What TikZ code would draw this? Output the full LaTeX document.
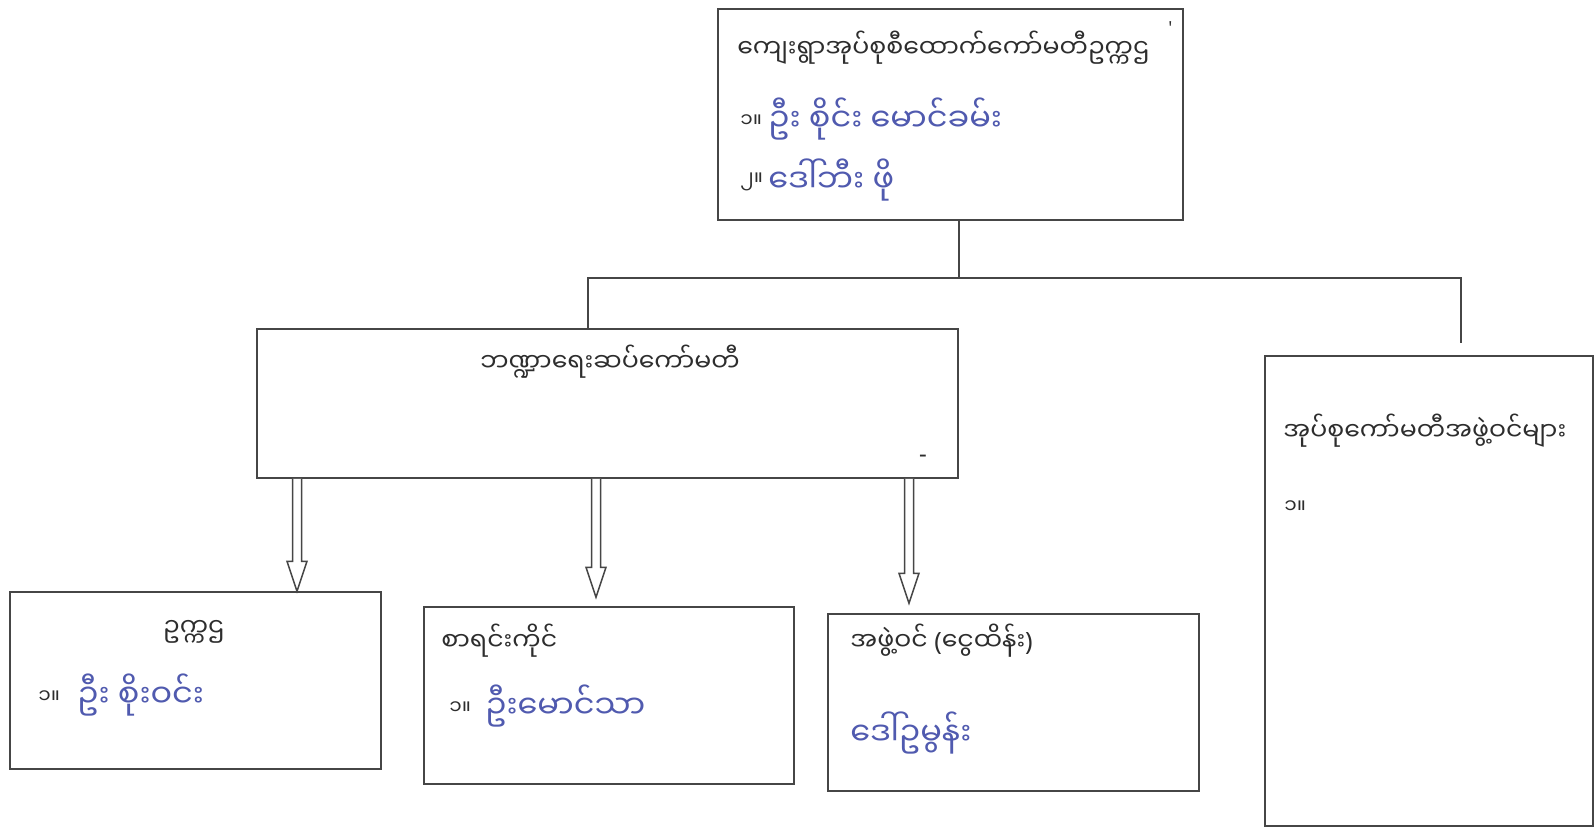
\documentclass[tikz,border=0pt]{standalone}
\usepackage{fontspec}
\setmainfont[Script=Myanmar]{Noto Sans Myanmar UI}
\newfontfamily\latin{Noto Sans}
\usetikzlibrary{calc,fit}
\definecolor{ln}{RGB}{70,70,70}
\definecolor{pen}{RGB}{80,90,175}
\definecolor{ink}{RGB}{45,45,45}
\tikzset{
  box/.style={draw=ln, line width=0.75pt, inner sep=0pt, rectangle},
  conn/.style={draw=ln, line width=0.75pt},
  lbl/.style={inner sep=0pt, text=ink, font=\fontsize{12.6}{15}\selectfont},
  hand/.style={inner sep=0pt, text=pen, font=\fontsize{16}{18}\selectfont},
  num/.style={inner sep=0pt, text=ink, font=\fontsize{10}{12}\selectfont},
}
\newcommand\harrow[2]{\draw[conn, fill=white] let \p1=(#1), \p2=(#2) in
  (\x1-2.25pt,\y1) -- (\x1-2.25pt,\y2+15pt) -- (\x1-5pt,\y2+15pt) -- (\x1,\y2)
  -- (\x1+5pt,\y2+15pt) -- (\x1+2.25pt,\y2+15pt) -- (\x1+2.25pt,\y1);}
\begin{document}
\begin{tikzpicture}[x=0.5pt,y=-0.5pt]
\useasboundingbox (0,0) rectangle (1596,831);
\fill[white] (0,0) rectangle (1596,831);
% boxes
\node[box, fit={(718,9) (1183,220)}] (top) {};
\node[box, fit={(257,329) (958,478)}] (mid) {};
\node[box, fit={(1265,356) (1593,826)}] (right) {};
\node[box, fit={(10,592) (381,769)}] (boxA) {};
\node[box, fit={(424,607) (794,784)}] (boxB) {};
\node[box, fit={(828,614) (1199,791)}] (boxC) {};
% connectors
\coordinate (j) at (959,278);
\coordinate (jl) at (588,278);
\coordinate (jr) at (1461,278);
\coordinate (rend) at (1461,343);
\draw[conn] (j |- top.south) -- (j);
\draw[conn] (jl |- mid.north) -- (jl) -- (jr) -- (rend);
\coordinate (a1) at (297,0);
\coordinate (a2) at (596,0);
\coordinate (a3) at (909,0);
\coordinate (t1) at ($(a1 |- boxA.north)$);
\coordinate (t2) at ($(a2 |- boxB.north)+(0,-9)$);
\coordinate (t3) at ($(a3 |- boxC.north)+(0,-10)$);
\harrow{a1 |- mid.south}{t1}
\harrow{a2 |- mid.south}{t2}
\harrow{a3 |- mid.south}{t3}
% top box text
\node[lbl, anchor=west] (t_title) at (737,48) {ကျေးရွာအုပ်စုစီထောက်ကော်မတီဥက္ကဌ};
\node[num, anchor=west, font=\latin\fontsize{9}{10}\selectfont] (t_mark) at (1168,28) {'};
\node[num, anchor=west] (t_n1) at (740,121) {၁။};
\node[hand, anchor=west] (t_h1) at (768,119) {ဦး စိုင်း မောင်ခမ်း};
\node[num, anchor=west] (t_n2) at (740,182) {၂။};
\node[hand, anchor=west] (t_h2) at (768,180) {ဒေါ်ဘီး ဖို};
% mid
\node[lbl] (m_title) at (610,362) {ဘဏ္ဍာရေးဆပ်ကော်မတီ};
\node[num, font=\latin\bfseries\fontsize{12}{12}\selectfont] (m_dash) at (923,459) {-};
% right
\node[lbl, anchor=west] (r_title) at (1283,431) {အုပ်စုကော်မတီအဖွဲ့ဝင်များ};
\node[num, anchor=west] (r_n1) at (1284,507) {၁။};
% box A
\node[lbl] (a_title) at (194,632) {ဥက္ကဌ};
\node[num, anchor=west] (a_n1) at (38,697) {၁။};
\node[hand, anchor=west] (a_h1) at (77,695) {ဦး စိုးဝင်း};
% box B
\node[lbl, anchor=west] (b_title) at (441,641) {စာရင်းကိုင်};
\node[num, anchor=west] (b_n1) at (449,708) {၁။};
\node[hand, anchor=west] (b_h1) at (485,706) {ဦးမောင်သာ};
% box C
\node[lbl, anchor=west] (c_title) at (850,641) {အဖွဲ့ဝင် {\latin(}ငွေထိန်း{\latin)}};
\node[hand, anchor=west] (c_h1) at (850,733) {ဒေါ်ဥမွန်း};
\end{tikzpicture}
\end{document}
